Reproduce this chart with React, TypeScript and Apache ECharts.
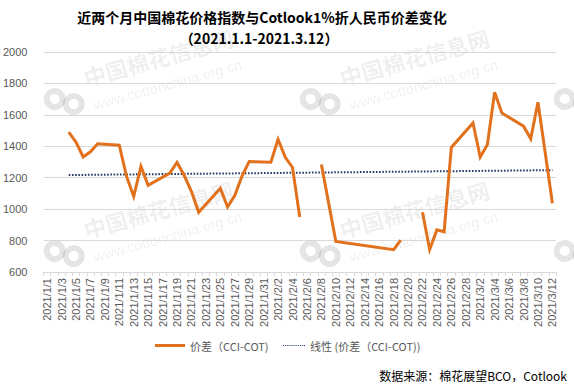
import React, { useEffect, useRef } from "react";
import * as echarts from "echarts";

// ---- Data ----
const monthLengths: [number, number][] = [
  [1, 31],
  [2, 28],
  [3, 12],
];
const categories: string[] = [];
monthLengths.forEach(([m, n]) => {
  for (let d = 1; d <= n; d++) categories.push(`2021/${m}/${d}`);
});

// trading days; a null value marks a break in the line
const tradeDates = [
  "2021/1/4", "2021/1/5", "2021/1/6", "2021/1/7", "2021/1/8",
  "2021/1/11", "2021/1/12", "2021/1/13", "2021/1/14", "2021/1/15",
  "2021/1/18", "2021/1/19", "2021/1/20", "2021/1/21", "2021/1/22",
  "2021/1/25", "2021/1/26", "2021/1/27", "2021/1/28", "2021/1/29",
  "2021/2/1", "2021/2/2", "2021/2/3", "2021/2/4", "2021/2/5",
  "2021/2/6",
  "2021/2/8", "2021/2/9", "2021/2/10", "2021/2/18", "2021/2/19",
  "2021/2/20",
  "2021/2/22", "2021/2/23", "2021/2/24", "2021/2/25", "2021/2/26",
  "2021/3/1", "2021/3/2", "2021/3/3", "2021/3/4", "2021/3/5",
  "2021/3/8", "2021/3/9", "2021/3/10", "2021/3/11", "2021/3/12",
];
const spreadValues: (number | null)[] = [
  1490, 1427, 1332, 1365, 1416,
  1407, 1210, 1080, 1272, 1152,
  1230, 1297, 1214, 1112, 980,
  1133, 1014, 1086, 1210, 1303,
  1299, 1444, 1330, 1265, 950,
  null,
  1284, 1040, 794, 742, 803,
  null,
  980, 743, 868, 856, 1393,
  1548, 1331, 1411, 1744, 1612,
  1528, 1448, 1680, 1360, 1037,
];

const trendDates = ["2021/1/4", "2021/3/12"];
const trendValues = [1217, 1248];

const yTicks = { min: 600, max: 2000, interval: 200 };

const TITLE = "近两个月中国棉花价格指数与Cotlook1%折人民币价差变化";
const SUBTITLE = "（2021.1.1-2021.3.12）";
const SOURCE = "数据来源：棉花展望BCO，Cotlook";
const SERIES_NAME = "价差（CCI-COT)";
const TREND_NAME = "线性 (价差（CCI-COT))";

// watermark tiles: [x, y, showText]
const watermarkOrigins: [number, number, boolean][] = [
  [87, 88, true], [343, 88, true], [597, 88, false],
  [87, 240, true], [343, 240, true], [597, 240, false],
];

function watermark([x, y, showText]: [number, number, boolean]) {
  const textFill = "rgba(0,0,0,0.08)";
  const logoFill = "rgba(0,0,0,0.1)";
  const children: any[] = [
    { type: "ring", shape: { cx: -34, cy: 2, r: 11, r0: 5 }, style: { fill: logoFill } },
    { type: "ring", shape: { cx: -17, cy: 12, r: 11, r0: 5 }, style: { fill: logoFill } },
  ];
  if (showText) {
    children.push(
      {
        type: "text",
        x: 0,
        y: 0,
        style: {
          text: "中国棉花信息网",
          fontSize: 22,
          fontWeight: "bold",
          fontFamily: "Noto Sans CJK SC",
          fill: textFill,
          align: "left",
          verticalAlign: "bottom",
        },
      },
      {
        type: "text",
        x: 2,
        y: 26,
        style: {
          text: "www.cottonchina.org.cn",
          fontSize: 14.5,
          fontFamily: "Liberation Sans",
          fill: textFill,
          align: "left",
          verticalAlign: "bottom",
        },
      }
    );
  }
  return { type: "group", x, y, rotation: 0.27, silent: true, z: 0, children };
}

// dotted legend icon
const dotPath =
  "path://" +
  Array.from({ length: 11 }, (_, i) => `M${i * 2},0h1v1h-1z`).join(" ");

export default function App() {
  const ref = useRef<HTMLDivElement>(null);
  useEffect(() => {
    if (!ref.current) return;
    const chart = echarts.init(ref.current, undefined, { renderer: "svg" });
    const spreadData = tradeDates.map((d, i) => [d, spreadValues[i] == null ? "-" : spreadValues[i]]);
    const trendData = trendDates.map((d, i) => [d, trendValues[i]]);
    const axisText = { color: "#595959", fontSize: 11, fontFamily: "Liberation Sans" };
    const legendText = { color: "#595959", fontSize: 11, fontFamily: "Noto Sans CJK SC" };
    chart.setOption({
      animation: false,
      backgroundColor: "#ffffff",
      grid: { left: 43, right: 18, top: 52, bottom: 118, containLabel: false },
      xAxis: {
        type: "category",
        data: categories,
        boundaryGap: true,
        axisLine: { lineStyle: { color: "#d9d9d9", width: 1 } },
        axisTick: { show: true, interval: 0, length: 4, lineStyle: { color: "#d9d9d9" } },
        axisLabel: { ...axisText, rotate: 90, interval: 1, margin: 6 },
        splitLine: { show: false },
      },
      yAxis: {
        type: "value",
        min: yTicks.min,
        max: yTicks.max,
        interval: yTicks.interval,
        axisLine: { show: false },
        axisTick: { show: false },
        axisLabel: { ...axisText, margin: 16, formatter: (v: number) => String(v) },
        splitLine: { lineStyle: { color: "#d9d9d9", width: 1 } },
      },
      legend: [
        {
          data: [{ name: SERIES_NAME, icon: "rect" }],
          left: 150,
          top: 335,
          itemWidth: 30,
          itemHeight: 3,
          textStyle: legendText,
        },
        {
          data: [{ name: TREND_NAME, icon: dotPath }],
          left: 278,
          top: 335,
          itemWidth: 22,
          itemHeight: 2,
          textStyle: legendText,
        },
      ],
      graphic: [
        ...watermarkOrigins.map(watermark),
        {
          type: "text",
          x: 262,
          y: 17,
          z: 10,
          style: {
            text: TITLE,
            fontSize: 14,
            fontWeight: "bold",
            fontFamily: "Noto Sans CJK SC",
            fill: "#000",
            align: "center",
            verticalAlign: "middle",
          },
        },
        {
          type: "text",
          x: 259,
          y: 38,
          z: 10,
          style: {
            text: SUBTITLE,
            fontSize: 14,
            fontWeight: "bold",
            fontFamily: "Noto Sans CJK SC",
            fill: "#000",
            align: "center",
            verticalAlign: "middle",
          },
        },
        {
          type: "text",
          x: 567,
          y: 375,
          z: 10,
          style: {
            text: SOURCE,
            fontSize: 12,
            fontFamily: "Noto Sans CJK SC",
            fill: "#000",
            align: "right",
            verticalAlign: "middle",
          },
        },
      ],
      series: [
        {
          name: SERIES_NAME,
          type: "line",
          data: spreadData,
          symbol: "none",
          connectNulls: false,
          z: 5,
          itemStyle: { color: "#E2711D" },
          lineStyle: { color: "#E2711D", width: 3, join: "miter" },
        },
        {
          name: TREND_NAME,
          type: "line",
          data: trendData,
          symbol: "none",
          z: 4,
          itemStyle: { color: "#1F3864" },
          lineStyle: { color: "#1F3864", width: 2, type: [1.6, 1.6] },
        },
      ],
    });
    return () => chart.dispose();
  }, []);
  return (
    <div
      ref={ref}
      style={{ position: "fixed", left: 0, top: 0, width: 574, height: 390, background: "#fff" }}
    />
  );
}
